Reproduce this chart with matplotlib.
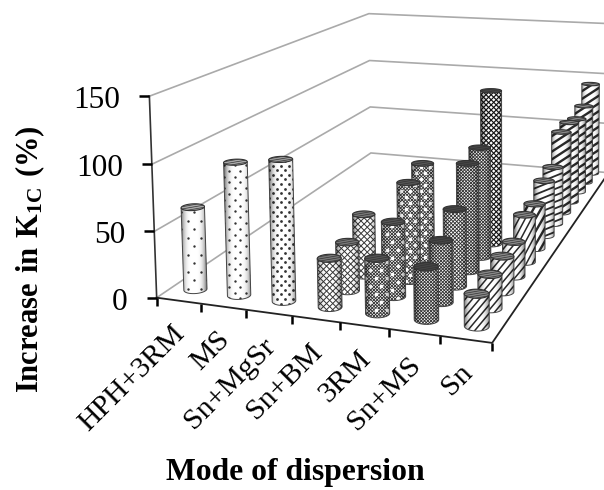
import numpy as np
import matplotlib
matplotlib.use("Agg")
import matplotlib.pyplot as plt
from matplotlib.collections import LineCollection
from matplotlib.patches import Polygon

plt.rcParams["font.family"] = ["Liberation Serif", "DejaVu Serif"]
plt.rcParams["mathtext.fontset"] = "custom"
plt.rcParams["mathtext.bf"] = "Liberation Serif:bold"
plt.rcParams["mathtext.rm"] = "Liberation Serif"

# Data
categories = ["HPH+3RM", "MS", "Sn+MgSr", "Sn+BM", "3RM", "Sn+MS", "Sn"]
hph_3rm = [63]
ms = [100]
sn_mgsr = [105]
sn_bm = [36, 37, 48]
three_rm = [40, 56, 76, 82]
sn_ms = [38, 46, 59, 85, 89, 128]
sn = [23, 25, 27, 27, 38, 37, 47, 50, 73, 74, 70, 75, 90]
series = [hph_3rm, ms, sn_mgsr, sn_bm, three_rm, sn_ms, sn]
y_ticks = [0, 50, 100, 150]


# Perspective of the chart box, fitted from its corners and ticks
def fit_camera():
    box = [
        (0, 0, 0, 157, 296.5), (7, 0, 0, 493, 341), (0, 1, 0, 370, 153),
        (7, 1, 0, 609, 173.4), (0, 0, 150, 149, 97), (0, 1, 150, 370, 13),
        (7, 1, 150, 609, 23), (0, 0, 100, 151.5, 165), (0, 0, 50, 154, 231.5),
        (0, 1, 50, 370, 107), (0, 1, 100, 370, 61), (1, 0, 0, 200, 303),
        (2, 0, 0, 246, 309), (3, 0, 0, 292.5, 316), (4, 0, 0, 340, 323),
        (5, 0, 0, 389, 330), (6, 0, 0, 440, 337),
    ]
    a, b = [], []
    for u, v, w, x, y in box:
        w = w / 100
        a.append([u, v, w, 1, 0, 0, 0, 0, -x * u, -x * v, -x * w])
        a.append([0, 0, 0, 0, u, v, w, 1, -y * u, -y * v, -y * w])
        b += [x, y]
    p = np.linalg.lstsq(np.array(a, float), np.array(b, float), rcond=None)[0]
    return np.append(p, 1).reshape(3, 4)


cam = fit_camera()


def project(u, v, w):
    u, v, w = np.broadcast_arrays(u, v, w)
    pts = np.stack([u, v, w / 100, np.ones_like(u, dtype=float)])
    x, y, s = cam @ pts
    return x / s, y / s


# Textures: ("dots", row gap, column gap, size, colour), ("lines", angle, gap, width, colour)
def mesh(gap, lw, color="#222222"):
    return [("lines", 45, gap, lw, color), ("lines", -45, gap, lw, color)]


def stripes(angle, gap, lw):
    return [("lines", angle, gap, lw, "#2a2a2a")]


def white_dots(row, col):
    return [("dots", row, col, 7, "white")]


textures = [
    [[("dots", 8.5, 13, 3, "#333333")]],
    [[("dots", 5.8, 11, 3, "#333333")]],
    [[("dots", 4.6, 8, 4, "#333333")]],
    [mesh(4.4, 0.7, "#333333")] * 3,
    [mesh(2.3, 0.6) + white_dots(8, 11), mesh(2.3, 0.6) + white_dots(8, 11),
     mesh(2.3, 0.6) + white_dots(6, 9), mesh(2.3, 0.6) + white_dots(6, 9)],
    [mesh(2.3, 0.6), mesh(2.3, 0.6), mesh(2.6, 0.6), mesh(2.3, 0.6), mesh(2.3, 0.6), mesh(3.6, 0.85, "#111111")],
    [stripes(50, 5.5, 1.1)] * 4 + [stripes(62, 5.5, 1.1), stripes(60, 6.5, 1.7)]
    + [stripes(22, 6, 1.3)] * 2 + [stripes(33, 6.5, 1.7)] * 5,
]
top_colors = ["#aaaaaa", "#aaaaaa", "#999999", "#777777", "#555555", "#444444", "#888888"]


def add_texture(ax, patch, box, layers, z):
    x0, x1, y0, y1 = box
    cx, cy = (x0 + x1) / 2, (y0 + y1) / 2
    reach = np.hypot(x1 - x0, y1 - y0)
    for layer in layers:
        if layer[0] == "lines":
            _, angle, gap, lw, color = layer
            t = np.radians(-angle)
            d = np.array([np.cos(t), np.sin(t)])
            n = np.array([-d[1], d[0]])
            segs = []
            for k in np.arange(-reach, reach, gap):
                c = np.array([cx, cy]) + n * k
                segs.append([c - d * reach, c + d * reach])
            art = LineCollection(segs, colors=color, linewidths=lw, zorder=z)
            ax.add_collection(art, autolim=False)
        else:
            _, row, col, size, color = layer
            xs, ys = [], []
            for i, yy in enumerate(np.arange(y0 - row, y1 + row, row)):
                line = np.arange(x0 - col + (i % 2) * col / 2, x1 + col, col)
                xs += list(line)
                ys += [yy] * len(line)
            art = ax.scatter(xs, ys, s=size, color=color, linewidths=0, zorder=z)
        art.set_clip_path(patch)


def draw_cylinder(ax, cat, row, value, z):
    u0 = cat + 0.52
    v0 = (row + 0.7) / 12.9
    t = np.linspace(0, 2 * np.pi, 73)[:-1]
    u = u0 + 0.235 * np.cos(t)
    v = v0 + 0.25 / 12.9 * np.sin(t)
    bx, by = project(u, v, 0 * t)
    tx, ty = project(u, v, 0 * t + value)

    left, right = np.argmin(bx), np.argmax(bx)
    order = np.roll(np.arange(72), -left)
    split = list(order).index(right)
    arc_a, arc_b = order[:split + 1], order[split:]
    arc = arc_a if by[arc_a].mean() > by[arc_b].mean() else np.append(arc_b, left)[::-1]
    body = np.vstack([np.c_[bx[arc], by[arc]],
                      [[tx[np.argmax(tx)], ty[np.argmax(tx)]]],
                      [[tx[np.argmin(tx)], ty[np.argmin(tx)]]]])

    patch = Polygon(body, closed=True, facecolor="white", edgecolor="none", zorder=z)
    ax.add_patch(patch)
    x0, x1 = min(bx.min(), tx.min()), max(bx.max(), tx.max())
    y0, y1 = ty.min(), by.max()
    add_texture(ax, patch, (x0, x1, y0, y1), textures[cat][row], z)

    # Round shading of the cylinder wall
    g = np.linspace(-1, 1, 40)
    shade = np.zeros((1, 40, 4))
    shade[..., 3] = 0.55 * np.abs(g) ** 3.5
    im = ax.imshow(shade, extent=(x0, x1, y1, y0), aspect="auto", zorder=z, interpolation="bilinear")
    im.set_clip_path(patch)

    ax.add_patch(Polygon(body, closed=True, facecolor="none", edgecolor="#444444", linewidth=0.7, zorder=z))
    cap = Polygon(np.c_[tx, ty], closed=True, facecolor=top_colors[cat], edgecolor="#333333", linewidth=0.8, zorder=z)
    ax.add_patch(cap)
    add_texture(ax, cap, (tx.min(), tx.max(), ty.min(), ty.max()), [("lines", 10, 2.2, 0.5, "#333333")], z)


fig = plt.figure(figsize=(6.04, 4.9), dpi=100)
ax = fig.add_axes([0, 0, 1, 1])

# Walls
for w in y_ticks:
    x, y = project([0, 0, 7], [0, 1, 1], [w, w, w])
    ax.plot(x, y, color="#aaaaaa", lw=1.2, zorder=1)

# Floor edges and axes
x, y = project([0, 7, 7], [0, 0, 1], [0, 0, 0])
ax.plot(x, y, color="#222222", lw=1.3, zorder=2)
x, y = project([0, 0], [0, 0], [0, 150])
ax.plot(x, y, color="#333333", lw=1.2, zorder=2)

for w in y_ticks:
    x, y = project(0, 0, w)
    x, y = float(x), float(y)
    ax.plot([x - 10, x], [y, y], color="black", lw=1.8, zorder=2, solid_capstyle="butt")
    ax.text(x - 29, y + 1, str(w), ha="right", va="center_baseline", fontsize=22.5)

for i in range(8):
    x, y = project(i, 0, 0)
    x, y = float(x), float(y)
    ax.plot([x, x], [y, y + 8], color="black", lw=1.8, zorder=2, solid_capstyle="butt")

for i, name in enumerate(categories):
    x, y = project(i + 0.5, 0, 0)
    ax.text(float(x) - 7, float(y) + 20, name, rotation=45, rotation_mode="anchor", ha="right", va="top", fontsize=21.5)

# Bars from the back row to the front
z = 3
for row in range(12, -1, -1):
    for cat, values in enumerate(series):
        if row < len(values):
            draw_cylinder(ax, cat, row, values[row], z)
            z += 1

ax.text(30, 259, r"$\mathbf{Increase\ in\ K_{1C}\ (\%)}$", rotation=90, ha="center", va="center", fontsize=22)
ax.text(295, 472, "Mode of dispersion", ha="center", va="center", fontsize=22.8, fontweight="bold")

ax.set_xlim(0, 604)
ax.set_ylim(490, 0)
ax.axis("off")
fig.savefig("out.png", dpi=100)
